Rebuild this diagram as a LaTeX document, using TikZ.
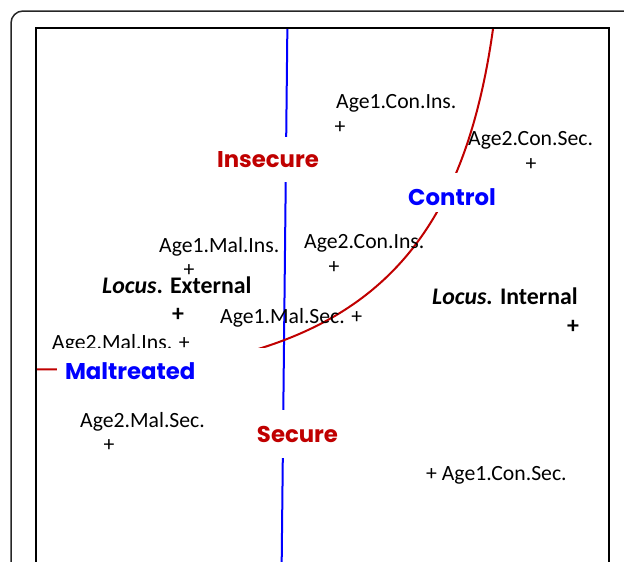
\documentclass[tikz,border=0pt]{standalone}
\usepackage{fontspec}
\setmainfont{Carlito}
\newfontfamily\comicfont{Poppins}
\definecolor{dred}{RGB}{192,0,0}
\definecolor{pblue}{RGB}{0,0,255}
\begin{document}
\begin{tikzpicture}[x=1pt,y=-1pt,
  txt/.style={font=\fontsize{21.7}{26}\selectfont, inner sep=0pt, anchor=base west},
  btxt/.style={font=\fontsize{23.8}{28}\selectfont\bfseries, inner sep=0pt, anchor=base west},
  plus/.style={font=\fontsize{21.7}{26}\selectfont, inner sep=0pt},
  bplus/.style={font=\fontsize{23.8}{28}\selectfont\bfseries, inner sep=0pt},
  tag/.style={font=\fontsize{22.8}{27}\selectfont\comicfont\bfseries, fill=white, inner sep=0pt, text depth=0pt}]
\useasboundingbox (0,0) rectangle (624,562);
\clip (0,0) rectangle (624,562);
% outer rounded frame
\draw[line width=1.5pt, black!85, rounded corners=12pt] (11,11) rectangle (680,620);
% curves clipped to the inner frame
\begin{scope}
  \clip (36,28) rectangle (609,600);
  \coordinate (vtop) at (287.5,15);
  \coordinate (vbot) at (281.5,580);
  \draw[pblue, line width=2pt] (vtop) -- (vbot);
  \coordinate (cl) at (15,369.5);
  \coordinate (cm) at (263,347.5);
  \coordinate (ct) at (493,29);
  \coordinate (ce) at (495.6,10);
  \draw[dred, line width=2pt] (cl) .. controls (120,369.5) and (203,366.7) .. (cm)
     .. controls (398.8,304) and (467.9,208.5) .. (ct) -- (ce);
\end{scope}
% inner frame
\draw[line width=2.6pt] (36,28) rectangle (609,620);
% data labels
\node[txt] (a1ci) at (336,108) {Age1.Con.Ins.};
\node[plus] (p1ci) at (340,128) {+};
\node[txt] (a2cs) at (468,145) {Age2.Con.Sec.};
\node[plus] (p2cs) at (531,165) {+};
\node[txt] (a2ci) at (304,248) {Age2.Con.Ins.};
\node[plus] (p2ci) at (334,268) {+};
\node[txt] (a1mi) at (159,252) {Age1.Mal.Ins.};
\node[plus] (p1mi) at (189,271) {+};
\node[btxt] (locE) at (102,293) {\textit{Locus}. External};
\node[bplus] (pE) at (178,315) {+};
\node[txt] (a1ms) at (220,323.5) {Age1.Mal.Sec. +};
\node[txt] (a2mi) at (52,349.5) {Age2.Mal.Ins. +};
\node[txt] (a2ms) at (80,427) {Age2.Mal.Sec.};
\node[plus] (p2ms) at (109,446) {+};
\node[btxt] (locI) at (432,304) {\textit{Locus.} Internal};
\node[bplus] (pI) at (573,327) {+};
\node[txt] (a1cs) at (426,480) {+ Age1.Con.Sec.};
% category tags (white boxes interrupt the lines)
\node[tag, text=dred, minimum width=108pt, minimum height=45pt, text height=15pt] (ins) at (268,159.5) {Insecure};
\node[tag, text=pblue, minimum width=88pt, minimum height=39pt, text height=25pt] (con) at (452,192.5) {Control};
\node[tag, text=dred, minimum width=88pt, minimum height=48pt, text height=16pt] (sec) at (297.5,434) {Secure};
\node[tag, text=pblue, inner xsep=8pt, text width=197pt, align=left, minimum height=47pt, text height=15pt] (mal) at (163.5,371.5) {Maltreated};
\end{tikzpicture}
\end{document}
